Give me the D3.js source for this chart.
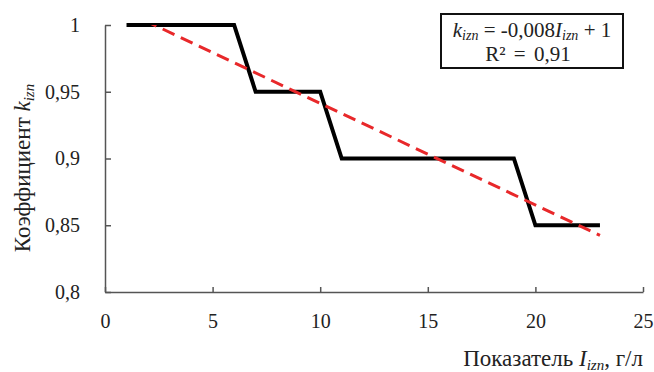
<!DOCTYPE html>
<html>
  <head>
    <meta charset="utf-8">
    <title>k_izn chart</title>
<style>
body { margin: 0; background: #fff; }
.axis path, .axis line { stroke: #555; stroke-width: 1.5px; }
</style>
	<script src="https://d3js.org/d3.v7.min.js"></script>
  </head>
  <body>
	<script type="text/javascript">

		// data
		var xValues = [1, 2, 3, 4, 5, 6, 7, 8, 9, 10, 11, 12, 13, 14, 15, 16, 17, 18, 19, 20, 21, 22, 23];
		var kValues = [1, 1, 1, 1, 1, 1, 0.95, 0.95, 0.95, 0.95, 0.9, 0.9, 0.9, 0.9, 0.9, 0.9, 0.9, 0.9, 0.9, 0.85, 0.85, 0.85, 0.85];
		var xTicks = [0, 5, 10, 15, 20, 25];
		var yTicks = [0.8, 0.85, 0.9, 0.95, 1];

		var serif = "'Liberation Serif', 'Times New Roman', serif";

		var margin = {top: 25, right: 11, bottom: 80, left: 105},
			width = 654 - margin.left - margin.right,
			height = 372 - margin.top - margin.bottom;

		var x = d3.scaleLinear().domain([0, 25]).range([0, width]);
		var y = d3.scaleLinear().domain([0.8, 1]).range([height, 0]);

		var fmt = function(d) { return String(d).replace(".", ","); };

		var svg = d3.select("body").append("svg")
			.attr("width", 654)
			.attr("height", 372);
		var g = svg.append("g")
			.attr("transform", "translate(" + margin.left + "," + margin.top + ")");

		// clip for the trend line
		g.append("clipPath").attr("id", "plot")
			.append("rect").attr("width", width).attr("height", height);

		// axes, ticks pointing inward
		g.append("g")
			.attr("class", "axis")
			.attr("transform", "translate(0," + height + ")")
			.call(d3.axisBottom(x).tickValues(xTicks).tickSizeInner(-5).tickSizeOuter(0).tickPadding(22).tickFormat(fmt));

		g.append("g")
			.attr("class", "axis")
			.call(d3.axisLeft(y).tickValues(yTicks).tickSizeInner(-6).tickSizeOuter(0).tickPadding(25).tickFormat(fmt));

		g.selectAll(".axis text")
			.style("font-family", serif)
			.style("font-size", "20px")
			.style("fill", "#222");

		// linear trend (least squares fit of the data)
		var mx = d3.mean(xValues), my = d3.mean(kValues);
		var sxy = d3.sum(xValues, function(v, i) { return (v - mx) * (kValues[i] - my); });
		var sxx = d3.sum(xValues, function(v) { return (v - mx) * (v - mx); });
		var slope = sxy / sxx, icpt = my - slope * mx;
		var x0 = d3.min(xValues), x1 = d3.max(xValues);

		var line = d3.line()
			.x(function(d) { return x(d[0]); })
			.y(function(d) { return y(d[1]); });

		var pts = xValues.map(function(v, i) { return [v, kValues[i]]; });

		g.append("path")
			.datum(pts)
			.attr("fill", "none")
			.attr("stroke", "#000")
			.attr("stroke-width", 4)
			.attr("d", line);

		g.append("path")
			.datum([[x0, icpt + slope * x0], [x1, icpt + slope * x1]])
			.attr("clip-path", "url(#plot)")
			.attr("fill", "none")
			.attr("stroke", "#e8282a")
			.attr("stroke-width", 3)
			.attr("stroke-dasharray", "13,7")
			.attr("d", line);

		// equation box
		svg.append("rect")
			.attr("x", 441).attr("y", 14)
			.attr("width", 182).attr("height", 54)
			.attr("fill", "#fff")
			.attr("stroke", "#111")
			.attr("stroke-width", 2);

		var eq = svg.append("text")
			.attr("x", 532).attr("y", 37)
			.attr("text-anchor", "middle")
			.style("font-family", serif)
			.style("fill", "#222")
			.style("font-size", "21px");
		eq.append("tspan").style("font-style", "italic").text("k");
		eq.append("tspan").style("font-style", "italic").style("font-size", "14px").attr("dy", 3).text("izn");
		eq.append("tspan").attr("dy", -3).text(" = -0,008");
		eq.append("tspan").style("font-style", "italic").text("I");
		eq.append("tspan").style("font-style", "italic").style("font-size", "14px").attr("dy", 3).text("izn");
		eq.append("tspan").attr("dy", -3).text(" + 1");

		svg.append("text")
			.attr("x", 528).attr("y", 61)
			.attr("text-anchor", "middle")
			.style("font-family", serif)
			.style("fill", "#222")
			.style("font-size", "21px")
			.style("word-spacing", "3px")
			.text("R² = 0,91");

		// y axis title
		var yt = svg.append("text")
			.attr("transform", "translate(30," + 168 + ") rotate(-90)")
			.attr("text-anchor", "middle")
			.style("font-family", serif)
			.style("fill", "#222")
			.style("font-size", "23px");
		yt.append("tspan").text("Коэффициент ");
		yt.append("tspan").style("font-style", "italic").text("k");
		yt.append("tspan").style("font-style", "italic").style("font-size", "15px").attr("dy", 4).text("izn");

		// x axis title
		var xt = svg.append("text")
			.attr("x", 643).attr("y", 366)
			.attr("text-anchor", "end")
			.style("font-family", serif)
			.style("fill", "#222")
			.style("font-size", "23px");
		xt.append("tspan").text("Показатель ");
		xt.append("tspan").style("font-style", "italic").text("I");
		xt.append("tspan").style("font-style", "italic").style("font-size", "15px").attr("dy", 4).text("izn");
		xt.append("tspan").attr("dy", -4).text(", г/л");

    </script>
  </body>
</html>
